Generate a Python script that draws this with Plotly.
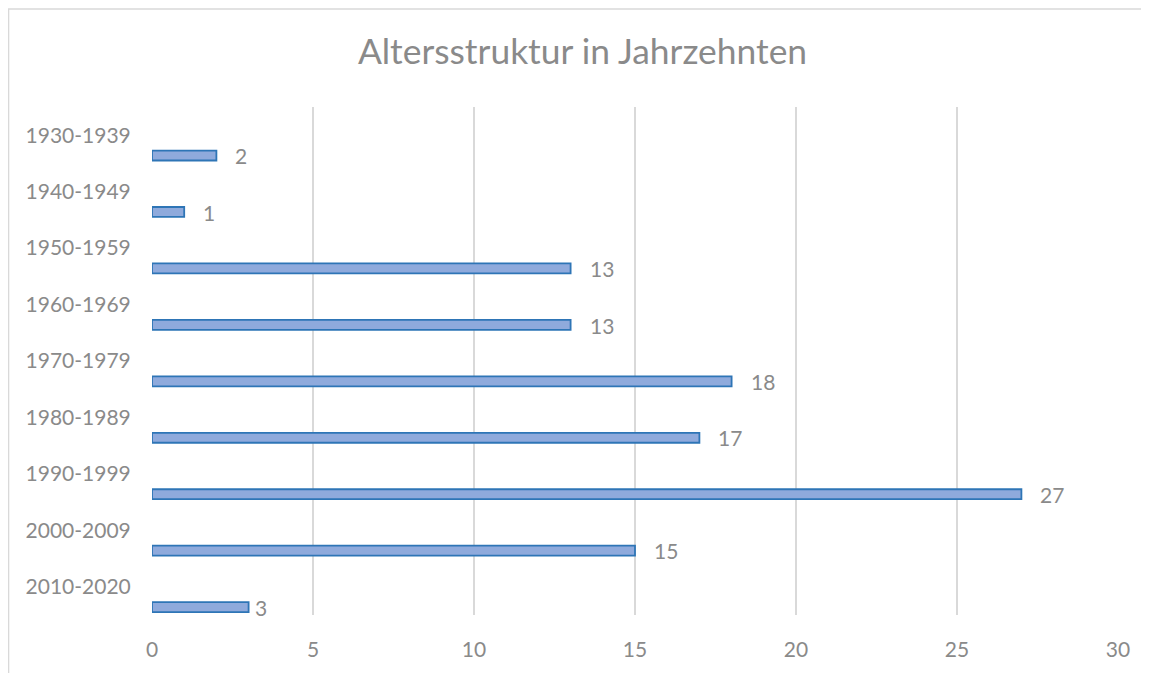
import plotly.graph_objects as go

categories = ["1930-1939", "1940-1949", "1950-1959", "1960-1969", "1970-1979",
              "1980-1989", "1990-1999", "2000-2009", "2010-2020"]
values = [2, 1, 13, 13, 18, 17, 27, 15, 3]
x_ticks = [0, 5, 10, 15, 20, 25, 30]
title_text = "Altersstruktur in Jahrzehnten"

FONT = "Lato, Carlito, Calibri, sans-serif"
GRAY = "#8a8a8a"

label_gaps = [17 if v != 3 else 4 for v in values]

fig = go.Figure()
fig.add_trace(go.Bar(
    y=categories, x=values, orientation="h",
    width=0.176, offset=0.272,
    marker=dict(color="#8faadc", line=dict(color="#2e75b6", width=1.8)),
    hoverinfo="x+y", showlegend=False,
))

for c, v, g in zip(categories, values, label_gaps):
    fig.add_annotation(x=v, y=c, text=str(v), showarrow=False,
                       xanchor="left", yanchor="middle", xshift=g, yshift=-20.5,
                       font=dict(family=FONT, size=21, color=GRAY))

# chart-area border (left and top edges visible in the reference)
fig.add_shape(type="path", xref="paper", yref="paper",
              path="M -0.1485,-0.2 L -0.1485,1.1927 L 1.2,1.1927",
              line=dict(color="#d9d9d9", width=1.5), layer="below")

fig.update_layout(
    width=1141, height=665,
    margin=dict(l=144, r=31, t=99, b=55),
    paper_bgcolor="white", plot_bgcolor="white",
    title=dict(text=title_text, x=0.5035, xanchor="center", y=0.934, yanchor="middle",
               font=dict(family=FONT, size=35.4, color=GRAY)),
    xaxis=dict(range=[0, 30], tickvals=x_ticks, showgrid=True, gridcolor="#d9d9d9",
               gridwidth=1.5, zeroline=False, showline=False,
               ticks="outside", ticklen=16, tickcolor="rgba(0,0,0,0)",
               tickfont=dict(family=FONT, size=21, color=GRAY), fixedrange=True),
    yaxis=dict(type="category", categoryorder="array", categoryarray=categories,
               range=[len(categories) - 0.5, -0.5], showgrid=False, zeroline=False,
               showline=False, ticks="outside", ticklen=16, tickcolor="rgba(0,0,0,0)",
               tickfont=dict(family=FONT, size=21, color=GRAY), fixedrange=True),
    font=dict(family=FONT, color=GRAY),
)

fig.write_html("out.html")
